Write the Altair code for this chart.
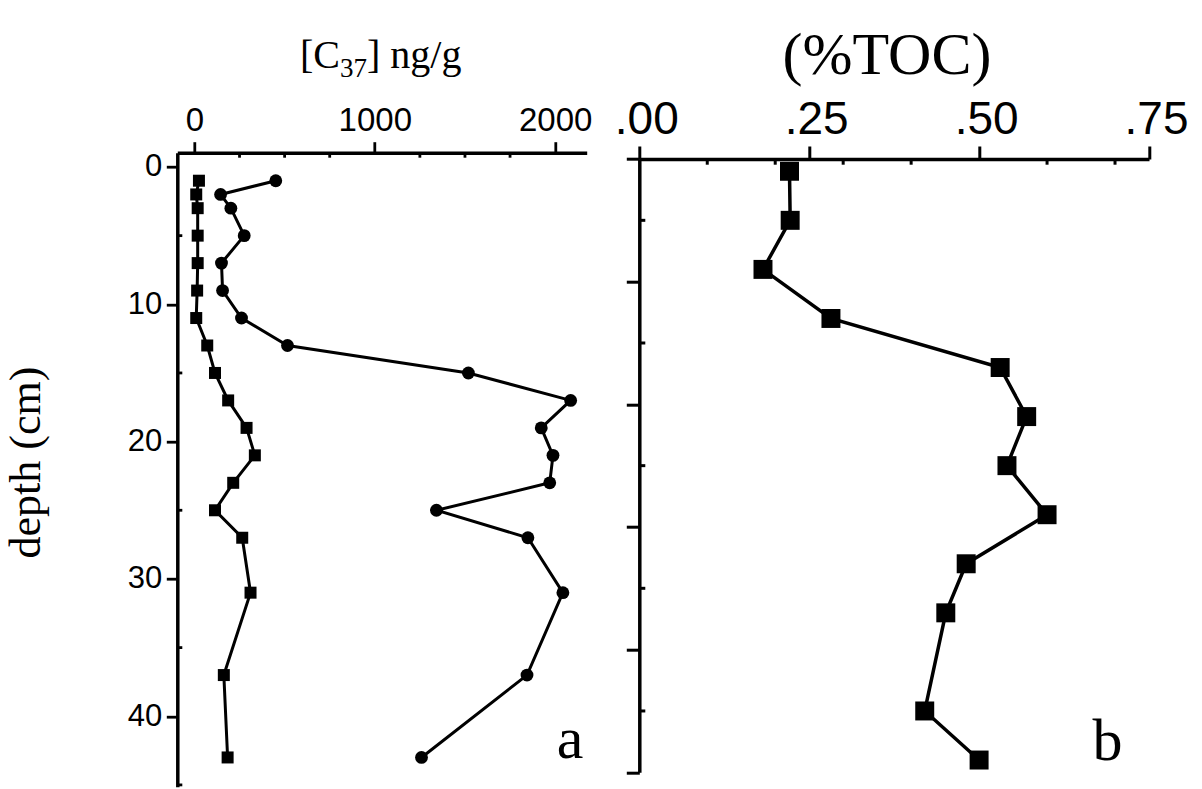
import altair as alt
import pandas as pd

# ---- panel a: alkenone ([C37]) profiles -------------------------------
depth_c37 = [1, 2, 3, 5, 7, 9, 11, 13, 15, 17, 19, 21, 23, 25, 27, 31, 37, 43]
c37_circles = [451, 145, 202, 276, 150, 156, 261, 516, 1519, 2086, 1923,
               1988, 1970, 1342, 1849, 2043, 1844, 1259]
c37_squares = [25, 10, 18, 18, 18, 15, 10, 71, 114, 187, 289, 335, 215,
               114, 265, 311, 163, 184]

# ---- panel b: total organic carbon -------------------------------------
depth_toc = [1, 5, 9, 13, 17, 21, 25, 29, 33, 37, 45, 49]
toc_pct = [0.221, 0.222, 0.182, 0.282, 0.531, 0.570, 0.541, 0.600,
           0.481, 0.451, 0.420, 0.500]

# ---- tick positions ------------------------------------------------------
c37_major = [0, 1000, 2000]
c37_minor = [250, 500, 750, 1250, 1500, 1750]
depth_a_major = [0, 10, 20, 30, 40]
depth_a_minor = [5, 15, 25, 35, 45]
toc_major = [0.0, 0.25, 0.50, 0.75]
toc_minor = [0.1, 0.2, 0.3, 0.4, 0.6, 0.7]
depth_b_major = [0, 10, 20, 30, 40, 50]
depth_b_minor = [5, 15, 25, 35, 45]

df_a = pd.DataFrame({"depth": depth_c37, "circ": c37_circles, "sq": c37_squares})
df_b = pd.DataFrame({"depth": depth_toc, "toc": toc_pct})

SERIF = "Liberation Serif"
SANS = "Liberation Sans"
INK = "black"

# layout of the two plot panels inside one drawing area
W, H = 971.7, 634
xa = alt.Scale(domain=[-95, 2175], range=[0, 409.4], nice=False, zero=False)
ya = alt.Scale(domain=[-1.04, 45.13], range=[0, 634], nice=False, zero=False)
xb = alt.Scale(domain=[0, 0.75], range=[462, 971.7], nice=False, zero=False)
yb = alt.Scale(domain=[0, 50], range=[6.3, 619.6], nice=False, zero=False)

common_axis = dict(
    grid=False, domainColor=INK, tickColor=INK, labelColor=INK,
    labelFont=SANS, labelFlush=False, labelOverlap=False,
)

ax_a_x = alt.Axis(
    orient="top", values=c37_major, format="d", title="",
    tickSize=11, tickWidth=2.8, domainWidth=3.5,
    labelFontSize=33, labelPadding=11.7, labelBaseline="alphabetic",
    **common_axis,
)
ax_a_y = alt.Axis(
    orient="left", values=depth_a_major, format="d",
    title="depth (cm)", titleFont=SERIF, titleFontSize=44,
    titleFontWeight="normal", titleColor=INK, titleAngle=270,
    titleX=-138, titleY=309.3, titleAlign="center", titleBaseline="alphabetic",
    tickSize=11, tickWidth=2.8, domainWidth=3.5,
    labelFontSize=31, labelPadding=4.6, labelBaseline="middle",
    **common_axis,
)
ax_b_x = alt.Axis(
    orient="top", offset=-6.3, values=toc_major,
    labelExpr="substring(format(datum.value, '.2f'), 1)",
    title="(%TOC)", titleFont=SERIF, titleFontSize=60,
    titleFontWeight="normal", titleColor=INK,
    titleX=709.2, titleY=-86, titleAlign="center", titleBaseline="alphabetic",
    tickSize=13, tickWidth=3, domainWidth=3.5,
    labelFontSize=46, labelPadding=12.7, labelOffset=7,
    labelBaseline="alphabetic",
    **common_axis,
)
ax_b_y = alt.Axis(
    orient="left", offset=-462, values=depth_b_major, labels=False, title="",
    tickSize=13, tickWidth=3, domainWidth=3.5,
    **common_axis,
)

# ---- panel a layers ------------------------------------------------------
base_a = alt.Chart(df_a)
line_circ = base_a.mark_line(color=INK, strokeWidth=3).encode(
    x=alt.X("circ:Q", scale=xa, axis=ax_a_x),
    y=alt.Y("depth:Q", scale=ya, axis=ax_a_y),
    order=alt.Order("depth:Q"),
)
pts_circ = base_a.mark_circle(color=INK, opacity=1, size=165).encode(
    x=alt.X("circ:Q", scale=xa),
    y=alt.Y("depth:Q", scale=ya),
)
line_sq = base_a.mark_line(color=INK, strokeWidth=3).encode(
    x=alt.X("sq:Q", scale=xa),
    y=alt.Y("depth:Q", scale=ya),
    order=alt.Order("depth:Q"),
)
pts_sq = base_a.mark_square(color=INK, opacity=1, size=144).encode(
    x=alt.X("sq:Q", scale=xa),
    y=alt.Y("depth:Q", scale=ya),
)
minor_xa = alt.Chart(pd.DataFrame({"circ": c37_minor})).mark_rule(
    color=INK, strokeWidth=2.8
).encode(
    x=alt.X("circ:Q", scale=xa), y=alt.value(0), y2=alt.value(5)
)
minor_ya = alt.Chart(pd.DataFrame({"depth": depth_a_minor})).mark_rule(
    color=INK, strokeWidth=2.8
).encode(
    y=alt.Y("depth:Q", scale=ya), x=alt.value(0), x2=alt.value(5)
)


def text_layer(txt, x, y, size, align="left"):
    return alt.Chart(pd.DataFrame({"t": [txt]})).mark_text(
        font=SERIF, fontSize=size, color=INK, align=align, baseline="alphabetic"
    ).encode(text="t:N", x=alt.value(x), y=alt.value(y))


# axis title "[C37] ng/g" with a true subscript
title_a = (
    text_layer("[C", 162.7, -84.4, 40, "right")
    + text_layer("37", 162.7, -76, 27, "left")
    + text_layer("] ng/g", 189.7, -84.4, 40, "left")
)
tag_a = text_layer("a", 392.7, 605.3, 60, "center")

chart_a = alt.layer(line_circ, line_sq, pts_circ, pts_sq, minor_xa, minor_ya,
                    title_a, tag_a)

# ---- panel b layers ------------------------------------------------------
base_b = alt.Chart(df_b)
line_b = base_b.mark_line(color=INK, strokeWidth=3.5).encode(
    x=alt.X("toc:Q", scale=xb, axis=ax_b_x),
    y=alt.Y("depth:Q", scale=yb, axis=ax_b_y),
    order=alt.Order("depth:Q"),
)
pts_b = base_b.mark_square(color=INK, opacity=1, size=360).encode(
    x=alt.X("toc:Q", scale=xb),
    y=alt.Y("depth:Q", scale=yb),
)
minor_xb = alt.Chart(pd.DataFrame({"toc": toc_minor})).mark_rule(
    color=INK, strokeWidth=3
).encode(
    x=alt.X("toc:Q", scale=xb), y=alt.value(6.3), y2=alt.value(12)
)
minor_yb = alt.Chart(pd.DataFrame({"depth": depth_b_minor})).mark_rule(
    color=INK, strokeWidth=3
).encode(
    y=alt.Y("depth:Q", scale=yb), x=alt.value(462), x2=alt.value(468)
)
tag_b = text_layer("b", 930.2, 607.3, 60, "center")

chart_b = alt.layer(line_b, pts_b, minor_xb, minor_yb, tag_b)

chart = (
    alt.layer(chart_a, chart_b)
    .resolve_scale(x="independent", y="independent")
    .properties(
        width=W, height=H,
        padding={"left": 177.3, "top": 152.7, "right": 53, "bottom": 2.3},
        autosize=alt.AutoSizeParams(type="none"),
        background="white",
    )
    .configure_view(stroke=None)
)

chart.save("out.html", embed_options={"renderer": "svg", "actions": False})
